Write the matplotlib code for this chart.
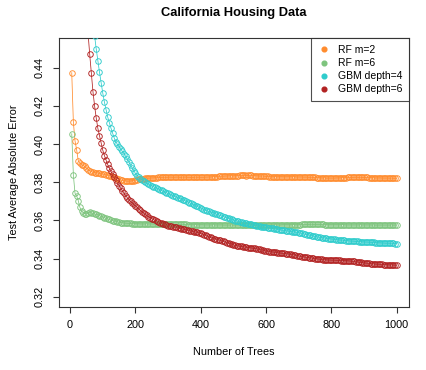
import numpy as np
import matplotlib
matplotlib.use("Agg")
import matplotlib.pyplot as plt
from matplotlib.lines import Line2D

plt.rcParams['font.family'] = ['Liberation Sans', 'DejaVu Sans']

trees = list(range(5, 1001, 5))

rf_m2 = [
    0.4374, 0.4114, 0.4017, 0.3970, 0.3913, 0.3900, 0.3892, 0.3888, 0.3883, 0.3875,
    0.3866, 0.3860, 0.3856, 0.3853, 0.3851, 0.3850, 0.3848, 0.3846, 0.3845, 0.3843,
    0.3841, 0.3839, 0.3837, 0.3835, 0.3833, 0.3830, 0.3826, 0.3822, 0.3818, 0.3815,
    0.3812, 0.3810, 0.3808, 0.3807, 0.3806, 0.3806, 0.3807, 0.3808, 0.3809, 0.3811,
    0.3813, 0.3815, 0.3816, 0.3818, 0.3819, 0.3820, 0.3821, 0.3822, 0.3822, 0.3823,
    0.3823, 0.3824, 0.3824, 0.3825, 0.3825, 0.3826, 0.3826, 0.3825, 0.3826, 0.3826,
    0.3827, 0.3827, 0.3826, 0.3826, 0.3827, 0.3827, 0.3826, 0.3826, 0.3826, 0.3827,
    0.3827, 0.3826, 0.3826, 0.3825, 0.3825, 0.3826, 0.3826, 0.3826, 0.3827, 0.3826,
    0.3826, 0.3826, 0.3827, 0.3827, 0.3828, 0.3828, 0.3829, 0.3829, 0.3830, 0.3830,
    0.3831, 0.3831, 0.3832, 0.3832, 0.3833, 0.3833, 0.3834, 0.3834, 0.3834, 0.3834,
    0.3835, 0.3835, 0.3835, 0.3836, 0.3836, 0.3836, 0.3836, 0.3835, 0.3836, 0.3836,
    0.3836, 0.3835, 0.3835, 0.3834, 0.3834, 0.3833, 0.3833, 0.3832, 0.3832, 0.3831,
    0.3831, 0.3830, 0.3830, 0.3830, 0.3829, 0.3829, 0.3829, 0.3830, 0.3830, 0.3829,
    0.3829, 0.3829, 0.3829, 0.3830, 0.3830, 0.3829, 0.3829, 0.3829, 0.3828, 0.3828,
    0.3828, 0.3828, 0.3827, 0.3827, 0.3827, 0.3826, 0.3826, 0.3825, 0.3825, 0.3825,
    0.3824, 0.3824, 0.3824, 0.3823, 0.3823, 0.3823, 0.3822, 0.3822, 0.3822, 0.3822,
    0.3822, 0.3822, 0.3823, 0.3823, 0.3823, 0.3824, 0.3824, 0.3824, 0.3824, 0.3825,
    0.3825, 0.3825, 0.3825, 0.3826, 0.3826, 0.3826, 0.3825, 0.3825, 0.3825, 0.3825,
    0.3825, 0.3825, 0.3824, 0.3824, 0.3824, 0.3823, 0.3823, 0.3823, 0.3823, 0.3823,
    0.3822, 0.3822, 0.3822, 0.3822, 0.3822, 0.3821, 0.3821, 0.3821, 0.3821, 0.3821,
]

rf_m6 = [
    0.4054, 0.3838, 0.3742, 0.3729, 0.3703, 0.3668, 0.3650, 0.3640, 0.3636, 0.3634,
    0.3638, 0.3642, 0.3640, 0.3637, 0.3634, 0.3631, 0.3628, 0.3625, 0.3621, 0.3618,
    0.3615, 0.3611, 0.3608, 0.3605, 0.3602, 0.3599, 0.3597, 0.3595, 0.3593, 0.3591,
    0.3589, 0.3588, 0.3587, 0.3586, 0.3585, 0.3584, 0.3584, 0.3583, 0.3583, 0.3583,
    0.3583, 0.3583, 0.3582, 0.3582, 0.3582, 0.3582, 0.3582, 0.3582, 0.3582, 0.3582,
    0.3581, 0.3581, 0.3581, 0.3581, 0.3581, 0.3580, 0.3580, 0.3580, 0.3580, 0.3580,
    0.3580, 0.3580, 0.3580, 0.3579, 0.3579, 0.3579, 0.3579, 0.3579, 0.3579, 0.3579,
    0.3579, 0.3578, 0.3578, 0.3578, 0.3578, 0.3578, 0.3578, 0.3578, 0.3578, 0.3578,
    0.3578, 0.3577, 0.3577, 0.3577, 0.3577, 0.3577, 0.3577, 0.3577, 0.3577, 0.3577,
    0.3577, 0.3577, 0.3577, 0.3576, 0.3576, 0.3576, 0.3576, 0.3576, 0.3576, 0.3576,
    0.3576, 0.3576, 0.3576, 0.3576, 0.3576, 0.3576, 0.3576, 0.3576, 0.3576, 0.3576,
    0.3576, 0.3576, 0.3576, 0.3576, 0.3576, 0.3576, 0.3576, 0.3576, 0.3576, 0.3576,
    0.3576, 0.3576, 0.3577, 0.3577, 0.3577, 0.3577, 0.3577, 0.3577, 0.3577, 0.3578,
    0.3578, 0.3578, 0.3578, 0.3578, 0.3578, 0.3578, 0.3578, 0.3578, 0.3578, 0.3578,
    0.3578, 0.3579, 0.3579, 0.3579, 0.3579, 0.3579, 0.3579, 0.3579, 0.3579, 0.3579,
    0.3579, 0.3579, 0.3579, 0.3579, 0.3579, 0.3578, 0.3578, 0.3578, 0.3578, 0.3578,
    0.3578, 0.3578, 0.3578, 0.3578, 0.3578, 0.3578, 0.3578, 0.3578, 0.3577, 0.3577,
    0.3577, 0.3577, 0.3577, 0.3577, 0.3577, 0.3577, 0.3577, 0.3577, 0.3577, 0.3577,
    0.3577, 0.3577, 0.3577, 0.3577, 0.3576, 0.3576, 0.3576, 0.3576, 0.3576, 0.3576,
    0.3576, 0.3576, 0.3576, 0.3576, 0.3576, 0.3576, 0.3576, 0.3576, 0.3576, 0.3576,
]

gbm_d4 = [
    0.8000, 0.7400, 0.6900, 0.6400, 0.6000, 0.5700, 0.5450, 0.5250, 0.5080, 0.4950,
    0.4850, 0.4770, 0.4700, 0.4635, 0.4565, 0.4498, 0.4437, 0.4376, 0.4321, 0.4267,
    0.4220, 0.4180, 0.4142, 0.4112, 0.4084, 0.4058, 0.4032, 0.4012, 0.3998, 0.3986,
    0.3974, 0.3962, 0.3950, 0.3936, 0.3922, 0.3906, 0.3890, 0.3875, 0.3860, 0.3846,
    0.3835, 0.3826, 0.3818, 0.3812, 0.3806, 0.3800, 0.3795, 0.3790, 0.3785, 0.3781,
    0.3777, 0.3773, 0.3769, 0.3765, 0.3761, 0.3757, 0.3753, 0.3749, 0.3745, 0.3741,
    0.3737, 0.3733, 0.3730, 0.3726, 0.3723, 0.3719, 0.3716, 0.3712, 0.3709, 0.3705,
    0.3701, 0.3697, 0.3693, 0.3689, 0.3685, 0.3681, 0.3677, 0.3673, 0.3669, 0.3665,
    0.3661, 0.3657, 0.3653, 0.3650, 0.3647, 0.3644, 0.3641, 0.3638, 0.3635, 0.3632,
    0.3629, 0.3626, 0.3623, 0.3620, 0.3617, 0.3614, 0.3611, 0.3608, 0.3605, 0.3602,
    0.3599, 0.3597, 0.3595, 0.3593, 0.3591, 0.3589, 0.3587, 0.3585, 0.3583, 0.3581,
    0.3579, 0.3577, 0.3575, 0.3573, 0.3571, 0.3569, 0.3568, 0.3567, 0.3565, 0.3564,
    0.3562, 0.3561, 0.3559, 0.3558, 0.3556, 0.3555, 0.3553, 0.3552, 0.3550, 0.3549,
    0.3548, 0.3546, 0.3545, 0.3544, 0.3543, 0.3541, 0.3540, 0.3539, 0.3537, 0.3536,
    0.3534, 0.3532, 0.3530, 0.3528, 0.3526, 0.3524, 0.3522, 0.3520, 0.3518, 0.3516,
    0.3514, 0.3513, 0.3511, 0.3510, 0.3509, 0.3508, 0.3506, 0.3505, 0.3504, 0.3503,
    0.3502, 0.3501, 0.3500, 0.3499, 0.3498, 0.3497, 0.3496, 0.3495, 0.3494, 0.3494,
    0.3493, 0.3492, 0.3492, 0.3491, 0.3490, 0.3490, 0.3489, 0.3489, 0.3488, 0.3488,
    0.3487, 0.3487, 0.3486, 0.3486, 0.3485, 0.3485, 0.3484, 0.3484, 0.3483, 0.3483,
    0.3482, 0.3482, 0.3481, 0.3481, 0.3481, 0.3480, 0.3480, 0.3480, 0.3479, 0.3479,
]

gbm_d6 = [
    0.7800, 0.7000, 0.6400, 0.5900, 0.5550, 0.5300, 0.5100, 0.4940, 0.4800, 0.4690,
    0.4580, 0.4470, 0.4374, 0.4274, 0.4200, 0.4136, 0.4082, 0.4044, 0.4005, 0.3968,
    0.3940, 0.3916, 0.3893, 0.3874, 0.3857, 0.3842, 0.3825, 0.3810, 0.3796, 0.3782,
    0.3768, 0.3755, 0.3742, 0.3730, 0.3719, 0.3709, 0.3700, 0.3692, 0.3684, 0.3676,
    0.3668, 0.3660, 0.3652, 0.3645, 0.3638, 0.3632, 0.3626, 0.3620, 0.3615, 0.3610,
    0.3605, 0.3600, 0.3596, 0.3592, 0.3588, 0.3585, 0.3582, 0.3579, 0.3576, 0.3573,
    0.3571, 0.3569, 0.3567, 0.3565, 0.3563, 0.3561, 0.3559, 0.3557, 0.3555, 0.3553,
    0.3551, 0.3549, 0.3547, 0.3545, 0.3543, 0.3541, 0.3539, 0.3537, 0.3535, 0.3532,
    0.3529, 0.3526, 0.3522, 0.3518, 0.3514, 0.3511, 0.3508, 0.3505, 0.3503, 0.3500,
    0.3498, 0.3496, 0.3493, 0.3490, 0.3487, 0.3484, 0.3481, 0.3478, 0.3475, 0.3472,
    0.3470, 0.3468, 0.3466, 0.3465, 0.3464, 0.3462, 0.3461, 0.3459, 0.3458, 0.3457,
    0.3456, 0.3455, 0.3453, 0.3452, 0.3450, 0.3448, 0.3446, 0.3444, 0.3442, 0.3440,
    0.3439, 0.3437, 0.3436, 0.3435, 0.3434, 0.3432, 0.3431, 0.3430, 0.3429, 0.3428,
    0.3427, 0.3426, 0.3425, 0.3424, 0.3423, 0.3421, 0.3420, 0.3418, 0.3416, 0.3414,
    0.3412, 0.3410, 0.3409, 0.3408, 0.3406, 0.3405, 0.3404, 0.3403, 0.3401, 0.3400,
    0.3399, 0.3398, 0.3397, 0.3396, 0.3395, 0.3394, 0.3394, 0.3393, 0.3393, 0.3392,
    0.3392, 0.3392, 0.3391, 0.3391, 0.3391, 0.3390, 0.3390, 0.3390, 0.3389, 0.3389,
    0.3388, 0.3387, 0.3386, 0.3385, 0.3383, 0.3382, 0.3381, 0.3380, 0.3379, 0.3378,
    0.3377, 0.3376, 0.3375, 0.3374, 0.3373, 0.3372, 0.3372, 0.3371, 0.3371, 0.3370,
    0.3370, 0.3369, 0.3369, 0.3368, 0.3368, 0.3367, 0.3367, 0.3367, 0.3366, 0.3366,
]

labels = ["RF m=2", "RF m=6", "GBM depth=4", "GBM depth=6"]
colors = ["#FF8C2E", "#7EC47E", "#2ECCCC", "#B22222"]
series = [rf_m2, rf_m6, gbm_d4, gbm_d6]

xticks = [0, 200, 400, 600, 800, 1000]
yticks = [0.32, 0.34, 0.36, 0.38, 0.40, 0.42, 0.44]

W, H = 426, 370
fig = plt.figure(figsize=(W / 100, H / 100), dpi=100)
ax = fig.add_axes([59 / W, 1 - 306.7 / H, (409.3 - 59) / W, (306.7 - 38.3) / H])

for vals, col in zip(series, colors):
    ax.plot(trees, vals, color=col, lw=0.55, zorder=2)
    ax.plot(trees, vals, linestyle='none', marker='o', markersize=4.0,
            markerfacecolor='none', markeredgecolor=col, markeredgewidth=0.65, zorder=3)

ax.set_xlim(-34, 1038.6)
ax.set_ylim(0.3148, 0.4554)
ax.set_xticks(xticks)
ax.set_xticklabels([str(v) for v in xticks])
ax.set_yticks(yticks)
ax.set_yticklabels([f"{v:.2f}" for v in yticks], rotation=90, va='center')
ax.tick_params(axis='both', direction='out', length=4.3, width=0.8, labelsize=7.8,
               color='#333333')
ax.tick_params(axis='x', pad=5.3)
ax.tick_params(axis='y', pad=5.8)
for s in ax.spines.values():
    s.set_linewidth(0.8)
    s.set_color('#333333')

handles = [Line2D([0], [0], linestyle='none', marker='o', markersize=3.4,
                  markerfacecolor=c, markeredgecolor=c) for c in colors]
leg = ax.legend(handles, labels, loc='upper right', fontsize=7.5, frameon=True,
                fancybox=False, borderaxespad=0, handlelength=1.2, handletextpad=0.8,
                borderpad=0.65, labelspacing=0.3)
leg.get_frame().set_edgecolor('#222222')
leg.get_frame().set_linewidth(0.8)

fig.text(234 / W, 1 - 13 / H, "California Housing Data", ha='center', va='center',
         fontsize=9.3, fontweight='bold')
fig.text(234 / W, 1 - 352 / H, "Number of Trees", ha='center', va='center', fontsize=7.8)
fig.text(14 / W, 1 - 172.5 / H, "Test Average Absolute Error", ha='center', va='center',
         rotation=90, fontsize=7.8)

fig.savefig("out.png", dpi=100)
